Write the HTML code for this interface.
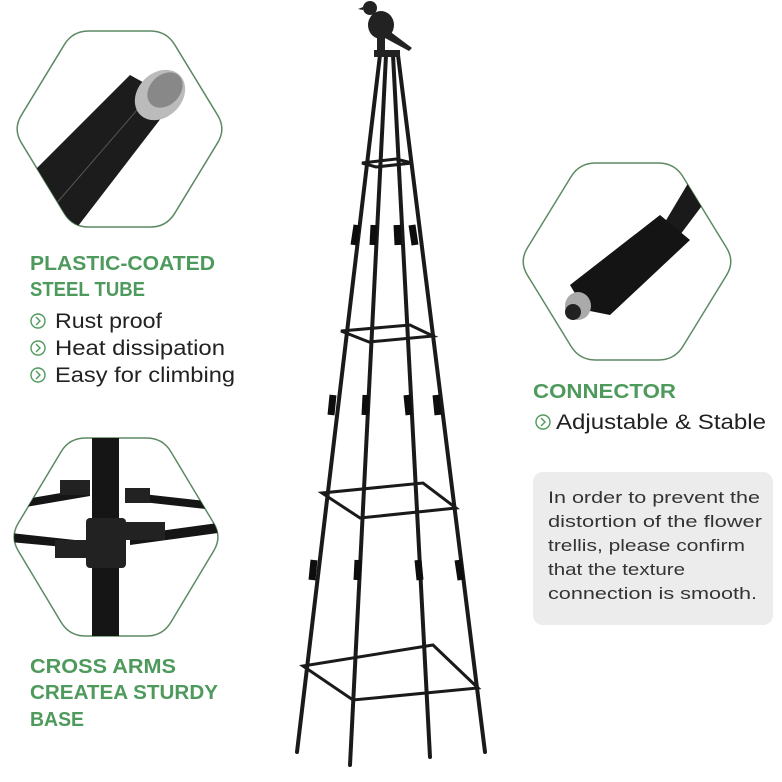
<!DOCTYPE html>
<html><head><style>
html,body{margin:0;padding:0;background:#fff;}
svg{display:block;}
text{font-family:"Liberation Sans",sans-serif;}
</style></head><body>
<svg width="782" height="782" viewBox="0 0 782 782" xmlns="http://www.w3.org/2000/svg">
<rect width="782" height="782" fill="#fff"/>
<defs>
<clipPath id="h1"><path id="p1c"/></clipPath>
<clipPath id="h2"><path id="p2c"/></clipPath>
<clipPath id="h3"><path id="p3c"/></clipPath>
</defs>
<path id="p1" fill="none" stroke="#5d8a62" stroke-width="1.5"/>
<g clip-path="url(#h1)">
<polygon points="30,175 130,75 175,100 75,230 30,230" fill="#1c1c1c"/>
<line x1="55" y1="205" x2="150" y2="95" stroke="#555" stroke-width="1"/>
<ellipse cx="160" cy="95" rx="22" ry="28" transform="rotate(45 160 95)" fill="#bbb"/>
<ellipse cx="165" cy="90" rx="15" ry="20" transform="rotate(45 165 90)" fill="#888"/>
</g>
<path id="p2" fill="none" stroke="#5d8a62" stroke-width="1.5"/>
<g clip-path="url(#h2)">
<rect x="92" y="438" width="27" height="200" fill="#151515"/>
<polygon points="20,500 90,488 90,496 20,508" fill="#151515"/>
<polygon points="125,492 215,502 215,510 125,500" fill="#151515"/>
<polygon points="10,533 75,540 75,548 10,542" fill="#151515"/>
<polygon points="130,535 225,522 225,532 130,545" fill="#151515"/>
<rect x="86" y="518" width="40" height="50" rx="4" fill="#222"/>
<rect x="60" y="480" width="30" height="15" fill="#222"/>
<rect x="125" y="488" width="25" height="15" fill="#222"/>
<rect x="55" y="540" width="40" height="18" fill="#222"/>
<rect x="125" y="522" width="40" height="18" fill="#222"/>
</g>
<path id="p3" fill="none" stroke="#5d8a62" stroke-width="1.5"/>
<g clip-path="url(#h3)">
<polygon points="690,180 710,195 680,235 665,222" fill="#1a1a1a"/>
<polygon points="570,285 660,215 690,240 610,315 585,310" fill="#141414"/>
<ellipse cx="578" cy="306" rx="13" ry="14" fill="#aaa"/>
<ellipse cx="573" cy="312" rx="8" ry="8" fill="#222"/>
</g>
<g fill="#4e9a5c" font-weight="bold" font-size="20">
<text x="30" y="270" textLength="185" lengthAdjust="spacingAndGlyphs">PLASTIC-COATED</text>
<text x="30" y="296" textLength="115" lengthAdjust="spacingAndGlyphs">STEEL TUBE</text>
<text x="30" y="673" textLength="146" lengthAdjust="spacingAndGlyphs">CROSS ARMS</text>
<text x="30" y="699" textLength="188" lengthAdjust="spacingAndGlyphs">CREATEA STURDY</text>
<text x="30" y="726" textLength="54" lengthAdjust="spacingAndGlyphs">BASE</text>
<text x="533" y="398" textLength="143" lengthAdjust="spacingAndGlyphs">CONNECTOR</text>
</g>
<g fill="#222" font-size="21">
<text x="55" y="328" textLength="107" lengthAdjust="spacingAndGlyphs">Rust proof</text>
<text x="55" y="355" textLength="170" lengthAdjust="spacingAndGlyphs">Heat dissipation</text>
<text x="55" y="382" textLength="180" lengthAdjust="spacingAndGlyphs">Easy for climbing</text>
<text x="556" y="429" textLength="210" lengthAdjust="spacingAndGlyphs">Adjustable &amp; Stable</text>
</g>
<g fill="none" stroke="#4e9a5c" stroke-width="1.4">
<circle cx="38" cy="321" r="7"/><path d="M36,317 L40,321 L36,325"/>
<circle cx="38" cy="348" r="7"/><path d="M36,344 L40,348 L36,352"/>
<circle cx="38" cy="375" r="7"/><path d="M36,371 L40,375 L36,379"/>
<circle cx="543" cy="422" r="7"/><path d="M541,418 L545,422 L541,426"/>
</g>
<rect x="533" y="472" width="240" height="153" rx="10" fill="#ececec"/>
<g fill="#333" font-size="17">
<text x="548" y="503" textLength="212" lengthAdjust="spacingAndGlyphs">In order to prevent the</text>
<text x="548" y="527" textLength="214" lengthAdjust="spacingAndGlyphs">distortion of the flower</text>
<text x="548" y="551" textLength="197" lengthAdjust="spacingAndGlyphs">trellis, please confirm</text>
<text x="548" y="575" textLength="137" lengthAdjust="spacingAndGlyphs">that the texture</text>
<text x="548" y="599" textLength="209" lengthAdjust="spacingAndGlyphs">connection is smooth.</text>
</g>
<g stroke="#1a1a1a" stroke-width="4" fill="none" stroke-linecap="round">
<line x1="380" y1="55" x2="297" y2="752"/>
<line x1="386" y1="55" x2="350" y2="765"/>
<line x1="393" y1="55" x2="430" y2="757"/>
<line x1="398" y1="55" x2="485" y2="752"/>
</g>
<g stroke="#1a1a1a" stroke-width="3" fill="none">
<polygon points="362,163 376,167 412,163 396,159"/>
<polygon points="341,331 369,342 433,336 410,325"/>
<polygon points="322,493 360,518 456,508 423,483"/>
<polygon points="303,666 353,700 478,688 433,645"/>
</g>
<g stroke="#0d0d0d" stroke-width="7">
<line x1="357" y1="225" x2="354" y2="245"/><line x1="374" y1="225" x2="373" y2="245"/><line x1="397" y1="225" x2="398" y2="245"/><line x1="412" y1="225" x2="415" y2="245"/>
<line x1="333" y1="395" x2="331" y2="415"/><line x1="366" y1="395" x2="365" y2="415"/><line x1="407" y1="395" x2="409" y2="415"/><line x1="436" y1="395" x2="438" y2="415"/>
<line x1="314" y1="560" x2="312" y2="580"/><line x1="358" y1="560" x2="357" y2="580"/><line x1="418" y1="560" x2="420" y2="580"/><line x1="458" y1="560" x2="461" y2="580"/>
</g>
<ellipse cx="381" cy="25" rx="13" ry="14" fill="#222"/>
<circle cx="370" cy="8" r="7" fill="#222"/>
<polygon points="363,7 358,9 363,10" fill="#222"/>
<polygon points="388,30 412,48 409,51 385,38" fill="#222"/>
<rect x="377" y="36" width="8" height="14" fill="#222"/>
<rect x="374" y="50" width="26" height="7" fill="#222"/>
</svg>
<script>
function hex(x0,x1,y0,y1){
  var w=x1-x0, cy=(y0+y1)/2, a=x0+w*0.28, b=x1-w*0.28;
  var V=[[x0,cy],[a,y0],[b,y0],[x1,cy],[b,y1],[a,y1]], r=16, d="";
  for(var i=0;i<6;i++){
    var p=V[(i+5)%6], c=V[i], n=V[(i+1)%6];
    var l1=Math.hypot(p[0]-c[0],p[1]-c[1]), l2=Math.hypot(n[0]-c[0],n[1]-c[1]);
    var s=[c[0]+(p[0]-c[0])*r/l1, c[1]+(p[1]-c[1])*r/l1];
    var e=[c[0]+(n[0]-c[0])*r/l2, c[1]+(n[1]-c[1])*r/l2];
    d+=(i?"L":"M")+s[0].toFixed(1)+","+s[1].toFixed(1)+" Q"+c[0]+","+c[1]+" "+e[0].toFixed(1)+","+e[1].toFixed(1)+" ";
  }
  return d+"Z";
}
var h=[["p1",13,226,31,227],["p2",10,222,438,636],["p3",519,735,163,360]];
h.forEach(function(q){var d=hex(q[1],q[2],q[3],q[4]);
document.getElementById(q[0]).setAttribute("d",d);
document.getElementById(q[0]+"c").setAttribute("d",d);});
</script>
</body></html>
